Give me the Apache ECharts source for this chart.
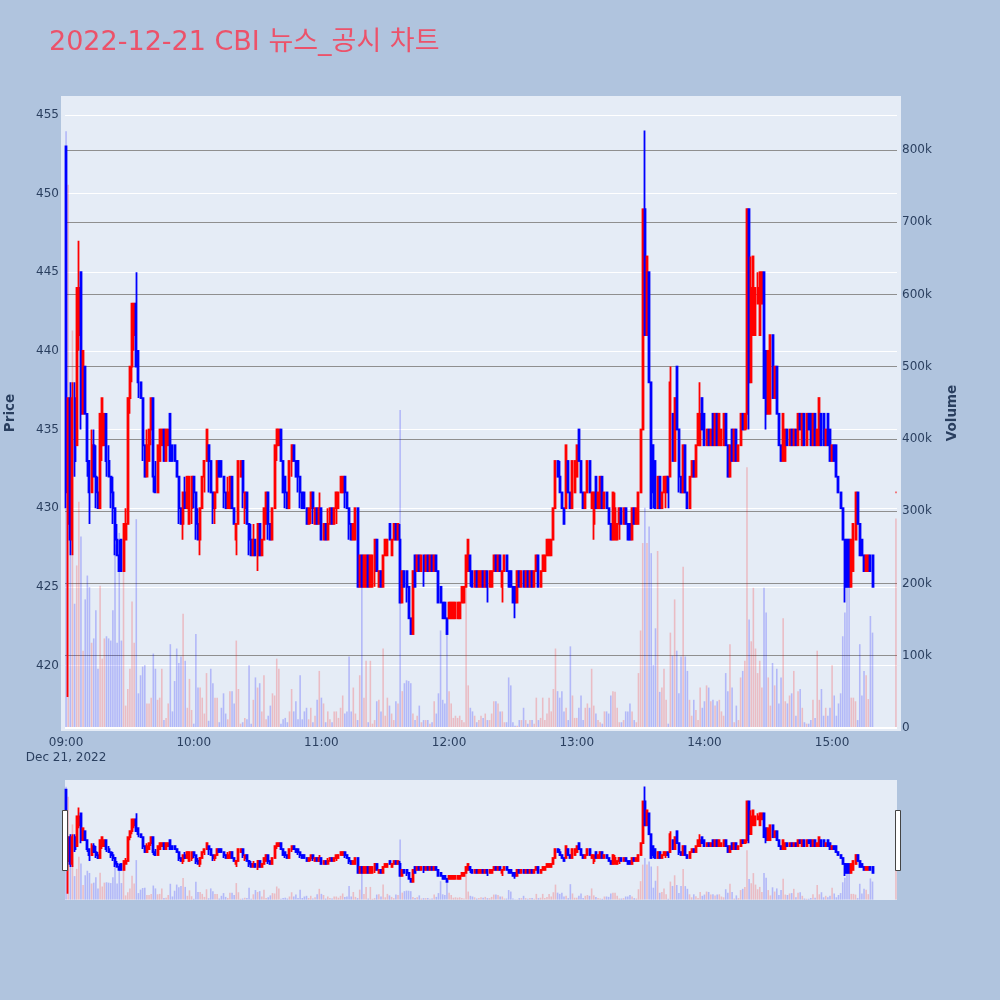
<!DOCTYPE html>
<html>
<head>
<meta charset="utf-8">
<script src="https://cdn.jsdelivr.net/npm/echarts@6/dist/echarts.min.js"></script>
<style>
  html, body { margin: 0; padding: 0; background: #b0c4de; }
  #chart { width: 1000px; height: 1000px; }
</style>
</head>
<body>
<div id="chart"></div>
<script>
// minute bars, 09:00 = minute 0, closing auction at 15:30 = minute 390
const opens = [
  453,429,437,428,437,434,441,445,436,439, 436,433,431,434,432,431,430,434,434,436,
  433,432,431,430,428,427,428,426,428,429, 437,439,441,443,440,438,437,434,432,433,
  435,437,432,431,433,434,435,433,434,436, 434,434,433,432,430,429,431,430,429,430,
  432,431,429,428,430,432,433,434,433,431, 430,431,433,433,432,431,430,430,432,430,
  428,429,432,433,430,431,429,428,427,428, 427,429,427,428,429,431,429,428,430,434,
  434,435,433,432,431,430,433,434,433,433, 432,431,431,430,429,430,431,429,430,429,
  430,428,429,428,429,430,429,430,430,431, 431,432,431,430,429,428,428,430,425,427,
  425,425,427,425,425,426,428,425,426,425, 427,427,429,427,428,429,428,428,424,426,
  426,425,423,422,427,426,427,426,427,426, 427,426,427,426,427,426,425,424,424,423,
  423,423,423,423,423,423,424,424,425,426, 427,426,425,426,425,425,426,425,426,425,
  425,426,427,426,427,425,426,427,426,426, 425,425,424,426,425,426,425,426,425,426,
  425,426,427,425,426,426,427,427,427,428, 430,433,432,431,430,430,433,431,430,431,
  432,435,433,431,430,431,433,430,429,432, 430,430,432,430,431,430,429,428,428,428,
  429,430,429,430,429,429,428,430,429,429, 431,435,449,441,445,438,434,433,430,432,
  430,431,431,432,432,436,433,439,435,432, 431,434,431,430,432,433,432,434,434,437,
  436,434,435,434,436,434,436,434,434,434, 436,434,432,435,433,435,433,434,436,435,
  436,449,438,441,441,443,441,443,445,440, 436,436,441,437,439,436,434,433,433,435,
  434,435,434,435,434,436,434,436,434,436, 436,434,436,434,434,436,436,434,436,435,
  433,434,434,432,431,430,428,428,428,425, 426,428,431,429,428,427,426,426,427,427,
  431
];
const closes = [
  431,437,428,437,433,444,444,436,440,436, 433,431,434,432,431,430,436,437,436,433,
  432,431,430,428,427,426,426,429,429,437, 439,443,443,439,438,437,434,432,434,435,
  437,432,431,434,435,435,433,435,435,433, 433,433,432,430,429,431,430,432,432,432,
  431,429,428,430,432,433,435,433,431,430, 431,433,432,432,431,430,431,432,430,429,
  429,433,433,431,431,429,428,427,428,427, 429,427,428,430,431,429,428,430,434,435,
  435,433,431,431,430,433,434,433,432,432, 431,430,430,429,430,431,430,430,429,430,
  428,429,428,429,430,429,430,431,431,432, 432,431,430,429,428,429,430,425,427,425,
  427,427,425,427,427,428,426,426,425,427, 428,428,428,428,429,428,429,424,426,425,
  425,423,422,426,425,427,426,427,426,427, 426,427,426,427,426,424,424,423,423,422,
  424,424,424,424,424,424,425,425,427,428, 426,425,426,425,426,426,425,426,425,426,
  426,427,426,427,426,426,427,426,425,425, 424,424,426,425,426,425,426,425,426,425,
  426,427,425,426,427,427,428,428,428,430, 433,432,431,430,429,434,431,430,433,433,
  434,433,431,430,431,433,431,431,431,430, 431,432,430,431,430,429,428,431,430,429,
  430,429,430,429,428,428,430,429,430,431, 435,449,441,446,438,430,431,430,432,430,
  431,432,432,431,438,433,437,435,432,431, 434,431,430,432,433,432,434,436,436,435,
  434,435,434,435,434,436,434,436,435,436, 434,432,434,433,435,433,434,436,435,436,
  449,438,444,446,444,444,445,445,437,436, 440,441,437,439,436,434,433,436,435,434,
  435,434,435,434,436,435,436,434,436,435, 434,436,434,435,437,434,434,435,434,433,
  434,433,432,431,430,428,425,425,425,428, 429,431,429,427,427,426,427,427,426,425,
  431
];
const lows = [
  430,418,427,427,432,434,440,435,436,436, 432,429,431,432,430,430,430,433,434,432,
  432,430,429,427,427,426,426,426,428,429, 436,438,440,439,437,437,433,432,432,433,
  434,431,431,431,433,434,433,433,434,433, 433,433,432,429,429,428,430,430,429,429,
  430,428,428,427,430,431,433,431,431,429, 429,431,432,432,430,430,430,430,430,429,
  427,429,432,430,429,429,427,427,427,427, 426,427,427,428,429,428,428,428,430,433,
  434,433,431,430,430,430,432,433,432,431, 430,430,430,429,429,429,429,429,429,429,
  428,428,428,428,429,429,429,429,430,431, 431,430,430,428,428,428,428,425,425,425,
  425,425,425,425,425,425,426,425,425,425, 427,427,428,427,428,428,428,424,424,425,
  424,423,422,422,425,426,426,426,425,426, 426,426,426,426,426,424,424,423,423,422,
  423,423,423,423,423,423,424,424,425,426, 425,425,425,425,425,425,425,425,424,425,
  425,426,426,426,426,424,426,426,425,425, 424,423,424,425,425,425,425,425,425,425,
  425,426,425,425,426,426,427,427,427,428, 430,432,431,430,429,430,431,430,430,431,
  432,433,431,430,430,431,431,430,428,430, 430,430,430,430,430,429,428,428,428,428,
  428,429,429,429,428,428,428,429,429,429, 431,435,441,441,438,430,430,430,430,430,
  430,431,430,430,432,433,433,435,431,431, 431,431,430,430,432,432,432,434,434,435,
  434,434,434,434,434,434,434,434,434,434, 434,432,432,433,433,433,433,434,435,435,
  435,435,438,441,441,443,441,443,437,435, 436,436,437,437,436,434,433,433,433,434,
  434,434,434,434,434,435,434,434,434,435, 434,434,434,434,434,434,434,434,434,433,
  433,433,432,431,430,428,424,425,425,425, 426,428,429,427,427,426,426,426,426,425,
  431
];
const highs = [
  453,437,438,438,438,444,447,445,440,439, 436,433,435,435,434,432,436,437,436,436,
  434,432,432,430,429,428,428,429,430,437, 439,443,443,445,440,438,437,434,435,435,
  437,437,433,434,435,435,435,435,435,436, 434,434,433,432,430,431,432,432,432,432,
  432,431,430,430,432,433,435,434,433,431, 431,433,433,433,432,431,432,432,432,430,
  429,433,433,433,431,431,429,429,429,428, 429,429,428,430,431,431,429,430,434,435,
  435,435,433,432,431,433,434,434,433,433, 432,431,431,430,430,431,431,430,430,431,
  430,429,429,430,430,430,430,431,431,432, 432,432,431,430,429,429,430,430,427,427,
  427,427,427,427,427,428,428,426,426,427, 428,428,429,428,429,429,429,429,426,426,
  426,425,423,426,427,427,427,427,427,427, 427,427,427,427,427,426,425,424,424,423,
  424,424,424,424,424,424,425,425,427,428, 427,426,426,426,426,426,426,426,426,426,
  426,427,427,427,427,426,427,427,426,426, 425,425,426,426,426,426,426,426,426,426,
  426,427,427,426,427,427,428,428,428,430, 433,433,433,431,430,434,433,431,433,433,
  434,435,433,431,431,433,433,431,431,432, 431,432,432,431,431,430,429,431,431,429,
  430,430,430,430,429,429,430,430,430,431, 435,449,454,446,445,438,434,433,432,432,
  431,432,432,432,439,436,437,439,435,432, 434,434,431,432,433,433,434,436,438,437,
  436,435,435,435,436,436,436,436,435,436, 436,434,434,435,435,435,434,436,436,436,
  449,449,446,446,444,445,445,445,445,440, 440,441,441,439,439,436,434,436,435,435,
  435,435,435,435,436,436,436,436,436,436, 436,436,436,435,437,436,436,435,436,435,
  434,434,434,432,431,430,428,428,428,428, 429,431,431,429,428,427,427,427,427,427,
  431
];
// volume in thousands of shares
const volumes = [
  826,752,300,550,172,225,313,265,107,178, 211,195,118,124,163,82,197,96,124,127,
  124,121,163,254,118,270,121,220,31,54, 82,175,118,289,48,73,85,87,34,34,
  42,103,82,39,42,82,11,14,34,116, 23,65,110,90,99,158,93,28,68,25,
  6,130,56,56,42,20,76,10,82,62, 42,42,8,28,48,20,12,51,51,34,
  121,54,6,8,14,12,87,6,39,70, 56,62,23,73,12,17,31,48,45,96,
  82,6,12,14,8,23,54,23,37,12, 73,12,23,28,12,28,8,17,39,79,
  42,34,8,23,12,8,23,23,14,28, 45,20,23,99,23,56,20,11,73,195,
  42,93,8,93,6,11,37,39,23,110, 17,42,31,20,11,37,34,440,51,62,
  66,65,62,20,11,17,31,8,11,11, 11,6,8,37,20,48,135,39,34,135,
  51,34,14,17,14,17,11,8,231,59, 28,23,17,8,11,17,14,20,11,11,
  20,37,37,34,23,23,8,8,70,59, 8,3,3,11,11,28,11,6,11,11,
  6,42,11,14,42,11,20,42,23,54, 110,51,42,51,23,28,11,113,45,14,
  14,28,45,11,28,34,28,82,31,20, 11,8,6,23,23,20,45,51,50,28,
  8,8,11,23,23,34,23,11,8,76, 135,256,305,256,279,242,87,138,245,50,
  56,82,39,6,132,100,178,107,48,99, 223,99,79,39,17,39,25,11,56,28,
  37,59,56,37,39,31,37,39,23,17, 76,51,116,56,8,31,11,70,79,93,
  361,150,120,194,110,76,93,56,194,160, 70,31,90,59,82,34,70,152,37,34,
  45,48,79,17,51,54,28,8,6,6, 11,39,14,107,39,54,17,28,17,28,
  87,45,17,34,48,127,160,210,232,42, 42,37,11,116,45,79,73,40,155,132,
  290
];
// minute of each bar: 09:00..15:19 continuous, then the 15:30 close
const minutes = [];
for (let m = 0; m < 380; m++) minutes.push(m);
minutes.push(390);

const hourTicks = [0, 60, 120, 180, 240, 300, 360];
const hourLabels = ["09:00", "10:00", "11:00", "12:00", "13:00", "14:00", "15:00"];
const dateLabel = "Dec 21, 2022";

const upColor = "#ff0000";
const downColor = "#0000ff";
const volUp = "rgba(255,0,0,0.2)";
const volDown = "rgba(0,0,255,0.22)";
const textColor = "#2a3f5f";
const font = '"DejaVu Sans", "Noto Sans CJK KR", sans-serif';

const candles = minutes.map((m, i) => [m, opens[i], closes[i], lows[i], highs[i]]);
const vols = minutes.map((m, i) => ({
  value: [m, volumes[i] * 1000],
  itemStyle: { color: closes[i] >= opens[i] ? volUp : volDown },
}));

const priceMin = 415.9, priceMax = 456.2;
const volMin = -2770, volMax = 874700;

const candleStyle = {
  color: upColor, color0: downColor,
  borderColor: upColor, borderColor0: downColor, borderColorDoji: upColor,
  borderWidth: 1.8,
};

const chart = echarts.init(document.getElementById("chart"));
chart.setOption({
  backgroundColor: "#b0c4de",
  animation: false,
  textStyle: { fontFamily: font },
  title: {
    text: "2022-12-21 CBI 뉴스_공시 차트",
    left: 44, top: 24,
    textStyle: { color: "#ec526a", fontSize: 27, fontWeight: "normal", fontFamily: font },
  },
  grid: [
    { left: 65, top: 96, width: 832, height: 634, show: false, outerBoundsMode: "none" },
    { left: 65, top: 780, width: 832, height: 120, show: true, backgroundColor: "#e5ecf6", borderWidth: 0, outerBoundsMode: "none" },
  ],
  xAxis: [
    {
      type: "value", gridIndex: 0, min: -0.5, max: 390.5,
      axisLine: { show: false }, axisTick: { show: false }, splitLine: { show: false },
      axisLabel: {
        customValues: hourTicks,
        color: textColor, fontSize: 12, margin: 5, lineHeight: 15,
        formatter: v => {
          const idx = hourTicks.indexOf(v);
          return idx === 0 ? hourLabels[0] + "\n" + dateLabel : hourLabels[idx];
        },
      },
    },
    { type: "value", gridIndex: 1, min: -0.5, max: 390.5, show: false },
  ],
  yAxis: [
    {
      type: "value", gridIndex: 0, position: "left", min: priceMin, max: priceMax, splitNumber: 8,
      name: "Price", nameLocation: "middle", nameRotate: 90, nameGap: 48,
      nameTextStyle: { color: textColor, fontSize: 13.5, fontWeight: "bold" },
      axisLine: { show: false }, axisTick: { show: false },
      axisLabel: { color: textColor, fontSize: 12, margin: 6, showMinLabel: false, showMaxLabel: false },
      splitLine: { lineStyle: { color: "#ffffff", width: 1 }, showMinLine: false, showMaxLine: false },
    },
    {
      type: "value", gridIndex: 0, position: "right", min: volMin, max: volMax, splitNumber: 9,
      name: "Volume", nameLocation: "middle", nameRotate: 90, nameGap: 49,
      nameTextStyle: { color: textColor, fontSize: 13.5, fontWeight: "bold" },
      axisLine: { show: false }, axisTick: { show: false },
      axisLabel: {
        color: textColor, fontSize: 12, margin: 5, showMinLabel: false, showMaxLabel: false,
        formatter: v => (v === 0 ? "0" : v / 1000 + "k"),
      },
      splitLine: { lineStyle: { color: "#8f8f8f", width: 1 }, showMinLine: false, showMaxLine: false },
    },
    { type: "value", gridIndex: 1, min: priceMin, max: priceMax, show: false, splitLine: { show: false } },
    { type: "value", gridIndex: 1, min: volMin, max: volMax, show: false, splitLine: { show: false } },
  ],
  series: [
    {
      name: "Volume", type: "bar", xAxisIndex: 0, yAxisIndex: 1,
      barWidth: 1.6, data: vols, z: 1,
      markLine: {
        silent: true, symbol: "none", label: { show: false },
        lineStyle: { color: "#ffffff", width: 2, type: "solid" },
        data: [{ yAxis: 0 }],
      },
    },
    {
      name: "Price", type: "candlestick", xAxisIndex: 0, yAxisIndex: 0,
      encode: { x: 0, y: [1, 2, 3, 4] }, barWidth: 1.5,
      itemStyle: candleStyle, data: candles, z: 2,
    },
    {
      name: "VolumeMini", type: "bar", xAxisIndex: 1, yAxisIndex: 3,
      barWidth: 1.6, data: vols, z: 1,
    },
    {
      name: "PriceMini", type: "candlestick", xAxisIndex: 1, yAxisIndex: 2,
      encode: { x: 0, y: [1, 2, 3, 4] }, barWidth: 1.5,
      itemStyle: candleStyle, data: candles, z: 2,
    },
  ],
  graphic: [
    // plot background, a few px wider than the axis domain as in the original
    { type: "rect", left: 61, top: 96, z: -10, shape: { width: 840, height: 635 }, style: { fill: "#e5ecf6" }, silent: true },
    // range-slider handles
    { type: "rect", left: 62, top: 810, shape: { width: 5, height: 60 }, style: { fill: "#fff", stroke: "#444", lineWidth: 1 }, z: 10 },
    { type: "rect", left: 895, top: 810, shape: { width: 5, height: 60 }, style: { fill: "#fff", stroke: "#444", lineWidth: 1 }, z: 10 },
  ],
});
</script>
</body>
</html>
